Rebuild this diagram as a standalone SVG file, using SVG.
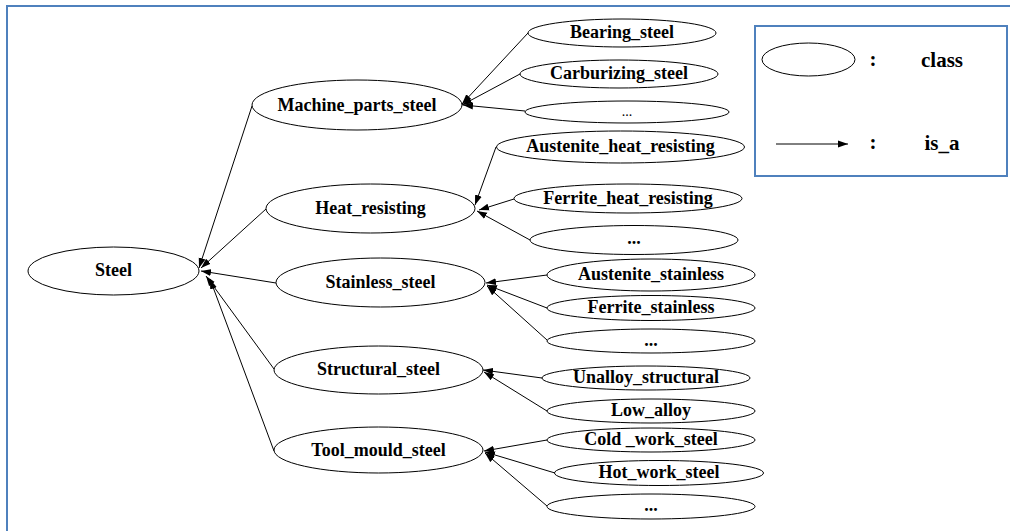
<svg xmlns="http://www.w3.org/2000/svg" width="1010" height="531" viewBox="0 0 1010 531">
<defs>
<marker id="ah" markerUnits="userSpaceOnUse" markerWidth="11" markerHeight="8" viewBox="0 0 11 8" refX="10" refY="4" orient="auto">
<path d="M0,0.5 L10,4 L0,7.5 z" fill="#000"/>
</marker>
</defs>
<style>
.n ellipse{fill:#fff;stroke:#000;stroke-width:1}
.n text,.t{font-family:"Liberation Serif","Times New Roman",serif;font-weight:bold;font-size:18px;text-anchor:middle;fill:#000}
.n text.s{font-weight:normal;font-size:14px}
#edges line{stroke:#000;stroke-width:1;marker-end:url(#ah)}
.frame{fill:none;stroke:#4f81bd;stroke-width:2}
.lg{font-family:"Liberation Serif","Times New Roman",serif;font-weight:bold;font-size:21px;fill:#000}
</style>
<rect width="1010" height="531" fill="#fff"/>
<rect class="frame" x="7" y="6" width="1010" height="540"/>

<g id="edges">
<line x1="252" y1="106" x2="199" y2="268"/>
<line x1="266" y1="209" x2="201" y2="268"/>
<line x1="276" y1="283" x2="201" y2="271"/>
<line x1="274" y1="369" x2="206" y2="276"/>
<line x1="274" y1="451" x2="210" y2="279"/>

<line x1="528" y1="33" x2="462" y2="104"/>
<line x1="520" y1="74" x2="462" y2="105"/>
<line x1="525" y1="111" x2="463" y2="105"/>

<line x1="496" y1="147" x2="475" y2="205"/>
<line x1="514" y1="199" x2="479" y2="210"/>
<line x1="530" y1="240" x2="477" y2="211"/>

<line x1="547" y1="275" x2="486" y2="283"/>
<line x1="547" y1="308" x2="487" y2="285"/>
<line x1="547" y1="340" x2="487" y2="286"/>

<line x1="542" y1="378" x2="483" y2="370"/>
<line x1="547" y1="411" x2="484" y2="372"/>

<line x1="547" y1="440" x2="484" y2="451"/>
<line x1="555" y1="473" x2="485" y2="452"/>
<line x1="547" y1="506" x2="485" y2="453"/>
</g>

<g id="steel" class="n"><ellipse cx="113.5" cy="271" rx="85.5" ry="24"/><text x="113.5" y="276">Steel</text></g>
<g id="machine_parts_steel" class="n"><ellipse cx="357" cy="105" rx="105" ry="25"/><text x="357" y="111">Machine_parts_steel</text></g>
<g id="heat_resisting" class="n"><ellipse cx="370.5" cy="208.5" rx="104.5" ry="24.5"/><text x="370.5" y="214">Heat_resisting</text></g>
<g id="stainless_steel" class="n"><ellipse cx="380.5" cy="282.5" rx="104.5" ry="24.5"/><text x="380.5" y="288">Stainless_steel</text></g>
<g id="structural_steel" class="n"><ellipse cx="378.5" cy="370" rx="104.5" ry="24"/><text x="378.5" y="375">Structural_steel</text></g>
<g id="tool_mould_steel" class="n"><ellipse cx="378.5" cy="450" rx="104.5" ry="23"/><text x="378.5" y="456">Tool_mould_steel</text></g>

<g id="bearing_steel" class="n"><ellipse cx="622" cy="33" rx="94" ry="14"/><text x="622" y="38">Bearing_steel</text></g>
<g id="carburizing_steel" class="n"><ellipse cx="619" cy="74" rx="99" ry="14"/><text x="619" y="79">Carburizing_steel</text></g>
<g id="mps_more" class="n"><ellipse cx="627" cy="112" rx="102" ry="11"/><text class="s" x="627" y="116">...</text></g>

<g id="austenite_heat_resisting" class="n"><ellipse cx="620.5" cy="147" rx="124" ry="16"/><text x="620.5" y="152">Austenite_heat_resisting</text></g>
<g id="ferrite_heat_resisting" class="n"><ellipse cx="628" cy="198.5" rx="114" ry="14.5"/><text x="628" y="204">Ferrite_heat_resisting</text></g>
<g id="heat_more" class="n"><ellipse cx="634" cy="240" rx="104" ry="14.5"/><text x="634" y="244">...</text></g>

<g id="austenite_stainless" class="n"><ellipse cx="651" cy="275" rx="104" ry="16"/><text x="651" y="280">Austenite_stainless</text></g>
<g id="ferrite_stainless" class="n"><ellipse cx="651" cy="308" rx="104" ry="12.5"/><text x="651" y="313">Ferrite_stainless</text></g>
<g id="stainless_more" class="n"><ellipse cx="651" cy="341" rx="104" ry="12"/><text x="651" y="346">...</text></g>

<g id="unalloy_structural" class="n"><ellipse cx="646" cy="378" rx="104" ry="12"/><text x="646" y="383">Unalloy_structural</text></g>
<g id="low_alloy" class="n"><ellipse cx="651" cy="411" rx="104" ry="12"/><text x="651" y="416">Low_alloy</text></g>

<g id="cold_work_steel" class="n"><ellipse cx="651" cy="440" rx="104" ry="12"/><text x="651" y="445">Cold _work_steel</text></g>
<g id="hot_work_steel" class="n"><ellipse cx="659" cy="473" rx="104.5" ry="12.5"/><text x="659" y="478">Hot_work_steel</text></g>
<g id="tool_more" class="n"><ellipse cx="651" cy="506.5" rx="104" ry="12.5"/><text x="651" y="511">...</text></g>

<g id="legend">
<rect class="frame" x="755" y="26" width="252" height="150" fill="#fff"/>
<ellipse cx="808.5" cy="59.5" rx="46.5" ry="16.5" fill="#fff" stroke="#000" stroke-width="1"/>
<text class="lg" x="873" y="66" text-anchor="middle">:</text>
<text class="lg" x="942" y="67" text-anchor="middle">class</text>
<line x1="776" y1="144" x2="848" y2="144" stroke="#000" stroke-width="1" marker-end="url(#ah)"/>
<text class="lg" x="873" y="149" text-anchor="middle">:</text>
<text class="lg" x="942" y="150" text-anchor="middle">is_a</text>
</g>
</svg>
